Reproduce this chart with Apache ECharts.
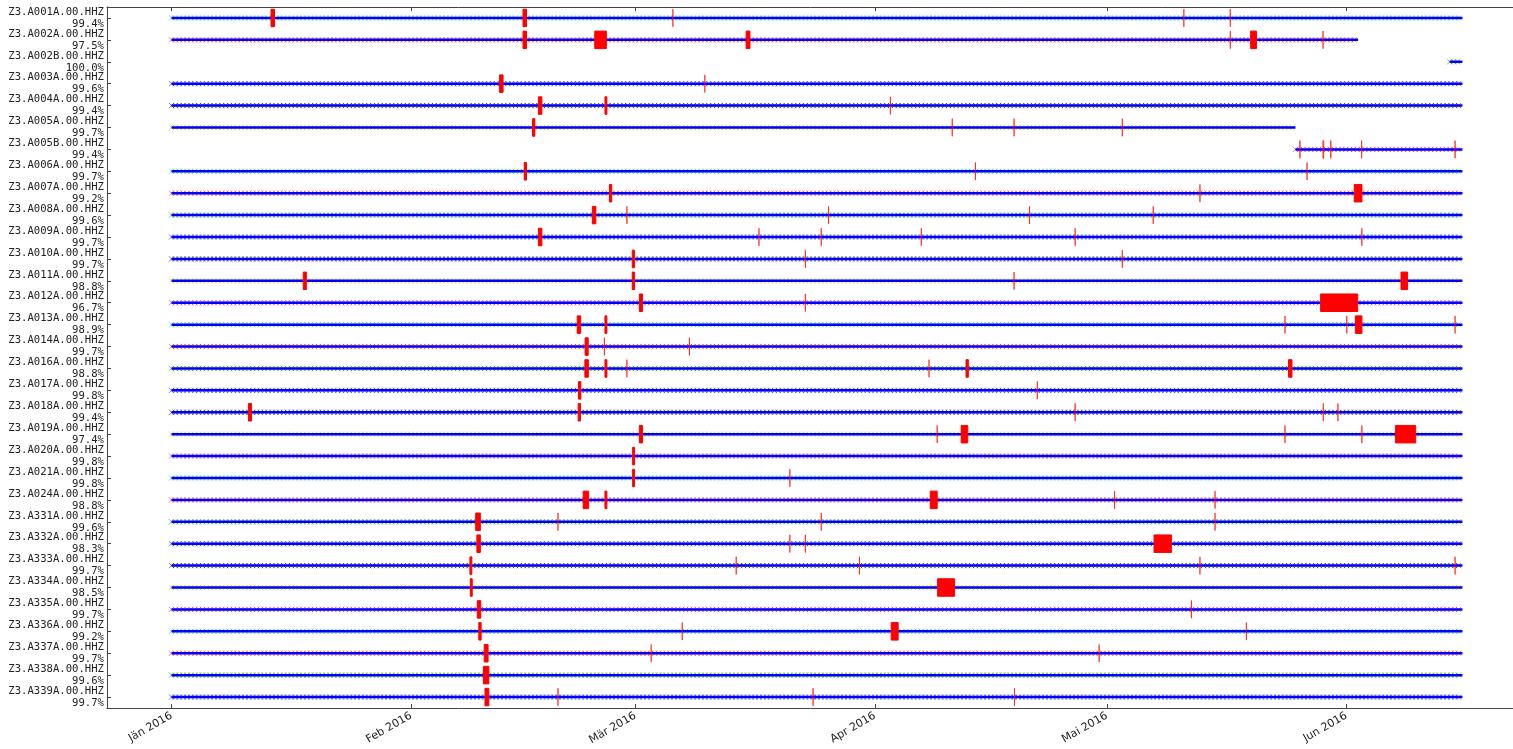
<!DOCTYPE html>
<html>
<head>
<meta charset="utf-8">
<script src="https://cdn.jsdelivr.net/npm/echarts@6/dist/echarts.min.js"></script>
<style>
html,body{margin:0;padding:0;background:#fff;}
#chart{width:1513px;height:749px;}
</style>
</head>
<body>
<div id="chart"></div>
<script>
// ---------- DATA ----------
const stations = [
  'Z3.A001A.00.HHZ','Z3.A002A.00.HHZ','Z3.A002B.00.HHZ','Z3.A003A.00.HHZ',
  'Z3.A004A.00.HHZ','Z3.A005A.00.HHZ','Z3.A005B.00.HHZ','Z3.A006A.00.HHZ',
  'Z3.A007A.00.HHZ','Z3.A008A.00.HHZ','Z3.A009A.00.HHZ','Z3.A010A.00.HHZ',
  'Z3.A011A.00.HHZ','Z3.A012A.00.HHZ','Z3.A013A.00.HHZ','Z3.A014A.00.HHZ',
  'Z3.A016A.00.HHZ','Z3.A017A.00.HHZ','Z3.A018A.00.HHZ','Z3.A019A.00.HHZ',
  'Z3.A020A.00.HHZ','Z3.A021A.00.HHZ','Z3.A024A.00.HHZ','Z3.A331A.00.HHZ',
  'Z3.A332A.00.HHZ','Z3.A333A.00.HHZ','Z3.A334A.00.HHZ','Z3.A335A.00.HHZ',
  'Z3.A336A.00.HHZ','Z3.A337A.00.HHZ','Z3.A338A.00.HHZ','Z3.A339A.00.HHZ'
];
const percents = [
  '99.4%','97.5%','100.0%','99.6%','99.4%','99.7%','99.4%','99.7%',
  '99.2%','99.6%','99.7%','99.7%','98.8%','96.7%','98.9%','99.7%',
  '98.8%','99.8%','99.4%','97.4%','99.8%','99.8%','98.8%','99.6%',
  '98.3%','99.7%','98.5%','99.7%','99.2%','99.7%','99.6%','99.7%'
];
// data coverage per station, in days since 2016-01-01
const coverageStart = [0,0,165.35,0,0,0,145.4,0,0,0,0,0,0,0,0,0,0,0,0,0,0,0,0,0,0,0,0,0,0,0,0,0];
const coverageEnd   = [167,153.5,167,167,167,145.4,167,167,167,167,167,167,167,167,167,167,167,167,167,167,167,167,167,167,167,167,167,167,167,167,167,167];
// gaps: [station row, start day, duration in days]
const gaps = [
  [0,12.87,0.45],[0,45.47,0.45],[0,64.85,0.02],[0,130.95,0.02],[0,136.95,0.02],
  [1,45.47,0.45],[1,54.75,1.5],[1,74.33,0.5],[1,136.95,0.02],[1,139.6,0.75],[1,148.95,0.02],
  [3,42.44,0.45],[3,68.98,0.02],
  [4,47.46,0.45],[4,56.07,0.25],[4,92.98,0.02],
  [5,46.7,0.3],[5,100.98,0.02],[5,108.98,0.02],[5,122.98,0.02],
  [6,145.95,0.05],[6,148.94,0.12],[6,149.95,0.05],[6,153.95,0.02],[6,166.03,0.02],
  [7,45.62,0.3],[7,103.98,0.02],[7,146.88,0.02],
  [8,56.65,0.3],[8,133.03,0.02],[8,153.0,1.0],
  [9,54.44,0.45],[9,58.9,0.02],[9,84.98,0.02],[9,110.98,0.02],[9,126.98,0.02],
  [10,47.46,0.45],[10,75.98,0.02],[10,84.03,0.02],[10,96.98,0.02],[10,116.88,0.02],[10,153.98,0.02],
  [11,59.6,0.3],[11,81.98,0.02],[11,122.98,0.02],
  [12,17.04,0.4],[12,59.6,0.3],[12,108.98,0.02],[12,159.05,0.85],
  [13,60.52,0.4],[13,81.98,0.02],[13,148.65,4.8],
  [14,52.48,0.45],[14,56.07,0.25],[14,144.03,0.02],[14,152.03,0.02],[14,153.15,0.85],[14,166.03,0.02],
  [15,53.5,0.4],[15,55.98,0.02],[15,66.98,0.02],
  [16,53.47,0.45],[16,56.07,0.25],[16,58.9,0.02],[16,97.98,0.02],[16,102.78,0.3],[16,144.5,0.45],
  [17,52.65,0.3],[17,111.98,0.02],
  [18,9.95,0.4],[18,52.6,0.3],[18,116.88,0.02],[18,148.98,0.02],[18,150.88,0.02],
  [19,60.52,0.4],[19,99.03,0.02],[19,102.15,0.85],[19,144.03,0.02],[19,153.98,0.02],[19,158.35,2.6],
  [20,59.65,0.25],
  [21,59.65,0.25],[21,79.98,0.02],
  [22,53.25,0.7],[22,56.07,0.25],[22,98.15,0.9],[22,121.98,0.02],[22,134.98,0.02],
  [23,39.35,0.6],[23,49.98,0.02],[23,84.03,0.02],[23,134.98,0.02],
  [24,39.5,0.45],[24,79.98,0.02],[24,81.98,0.02],[24,127.1,2.25],
  [25,38.6,0.25],[25,73.03,0.02],[25,88.98,0.02],[25,133.03,0.02],[25,166.03,0.02],
  [26,38.65,0.25],[26,99.1,2.2],
  [27,39.55,0.45],[27,131.93,0.02],
  [28,39.75,0.3],[28,66.05,0.02],[28,93.1,0.9],[28,139.03,0.02],
  [29,40.45,0.5],[29,62.03,0.02],[29,119.98,0.02],
  [30,40.35,0.7],
  [31,40.55,0.5],[31,49.98,0.02],[31,82.98,0.02],[31,109.03,0.02]
];
const monthLabels = ['Jän 2016','Feb 2016','Mär 2016','Apr 2016','Mai 2016','Jun 2016'];
const monthStarts = ['2016-01-01','2016-02-01','2016-03-01','2016-04-01','2016-05-01','2016-06-01'];

// ---------- helpers ----------
const DAY = 86400000;
const T0 = Date.UTC(2016, 0, 1);
const toTime = d => T0 + d * DAY;
const monthTimes = monthStarts.map(s => Date.parse(s + 'T00:00:00Z'));
const fileLengthMs = 12 * 3600 * 1000;  // each file segment start gets an 'x' marker
const markerCycle = ['#00bfbf','#ff0000','#008000','#0000ff','#000000','#bfbf00','#bf00bf'];

const coverageData = stations.map((s, i) => [toTime(coverageStart[i]), toTime(coverageEnd[i]), i]);
const gapData = gaps.map(g => [toTime(g[1]), toTime(g[1] + g[2]), g[0]]);

const chart = echarts.init(document.getElementById('chart'), null, {renderer: 'canvas'});
const xMin = toTime(-8.35), xMax = toTime(175.35);
const spine = '#444';

chart.setOption({
  animation: false,
  backgroundColor: '#fff',
  grid: {left: 107, top: 7, width: 1420, height: 701, containLabel: false, outerBoundsMode: 'none'},
  xAxis: [{
    type: 'value', min: xMin, max: xMax, position: 'bottom',
    axisLine: {show: true, lineStyle: {color: spine, width: 1}},
    axisTick: {show: true, inside: true, length: 4, customValues: monthTimes, lineStyle: {color: spine}},
    splitLine: {show: false},
    axisLabel: {
      show: true, customValues: monthTimes, rotate: 30, margin: 7,
      fontFamily: 'DejaVu Sans', fontSize: 11, color: '#222',
      formatter: v => monthLabels[monthTimes.indexOf(v)]
    }
  }, {
    type: 'value', min: xMin, max: xMax, position: 'top',
    axisLine: {show: true, onZero: false, lineStyle: {color: spine, width: 1}},
    axisTick: {show: true, inside: true, length: 4, customValues: monthTimes, lineStyle: {color: spine}},
    splitLine: {show: false},
    axisLabel: {show: false}
  }],
  yAxis: {
    type: 'category', data: stations, inverse: true,
    axisLine: {show: true, lineStyle: {color: spine, width: 1}},
    axisTick: {show: true, inside: true, length: 4, alignWithLabel: true, interval: 0, lineStyle: {color: spine}},
    splitLine: {show: false},
    axisLabel: {
      interval: 0, margin: 3, align: 'right',
      fontFamily: 'DejaVu Sans Mono', fontSize: 10.6, lineHeight: 12, color: '#222',
      formatter: (v, i) => v + '\n' + percents[i]
    }
  },
  series: [{
    type: 'custom', xAxisIndex: 0, yAxisIndex: 0,
    data: coverageData,
    renderItem: (params, api) => {
      const row = api.value(2);
      const s = api.coord([api.value(0), row]);
      const e = api.coord([api.value(1), row]);
      const step = api.size([fileLengthMs, 0])[0];
      const h = 2.6;
      let p = '';
      for (let x = s[0]; x < e[0] - step * 0.3; x += step) {
        p += 'M' + (x - h) + ' ' + (s[1] - h) + 'L' + (x + h) + ' ' + (s[1] + h) +
             'M' + (x - h) + ' ' + (s[1] + h) + 'L' + (x + h) + ' ' + (s[1] - h);
      }
      return {
        type: 'group',
        children: [
          {type: 'path', shape: {pathData: p},
           style: {fill: 'none', stroke: markerCycle[row % markerCycle.length], lineWidth: 1, opacity: 0.5}},
          {type: 'line', shape: {x1: s[0], y1: s[1], x2: e[0], y2: e[1]},
           style: {stroke: '#0000ff', lineWidth: 2.5}}
        ]
      };
    }
  }, {
    type: 'custom', xAxisIndex: 0, yAxisIndex: 0,
    data: gapData,
    renderItem: (params, api) => {
      const row = api.value(2);
      const s = api.coord([api.value(0), row]);
      const e = api.coord([api.value(1), row]);
      const bh = api.size([0, 1])[1] * 0.8;
      const w = e[0] - s[0];
      return {
        type: 'rect',
        shape: {x: s[0], y: s[1] - bh / 2, width: Math.max(w, 0.2), height: bh},
        style: {fill: '#ff0000', stroke: '#ff0000', lineWidth: 1, opacity: w < 1 ? 0.6 : 1}
      };
    }
  }]
});
</script>
</body>
</html>
